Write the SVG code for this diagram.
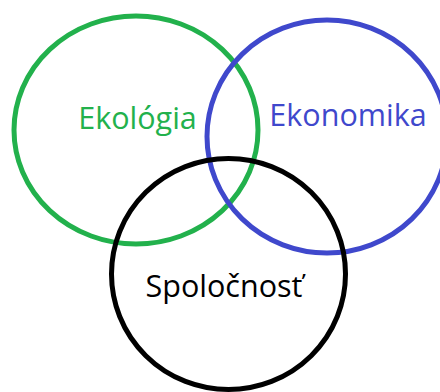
<svg xmlns="http://www.w3.org/2000/svg" width="440" height="392" viewBox="0 0 440 392">
<style>
.c{fill:none;stroke-width:5}
.t{font-family:"Open Sans","Noto Sans",sans-serif;font-size:30.5px;text-anchor:middle}
</style>
<rect width="440" height="392" fill="#fff"/>
<g id="ekologia">
<ellipse class="c" cx="136" cy="130" rx="122" ry="114" stroke="#22b14c"/>
<text class="t" x="137.5" y="129" fill="#22b14c">Ekológia</text>
</g>
<g id="ekonomika">
<ellipse class="c" cx="327" cy="136.5" rx="120" ry="116.5" stroke="#3f48cc"/>
<text class="t" x="348" y="126" fill="#3f48cc">Ekonomika</text>
</g>
<g id="spolocnost">
<ellipse class="c" cx="228.5" cy="274" rx="117" ry="115.5" stroke="#000"/>
<text class="t" x="224" y="297" fill="#000">Spoločnosť</text>
</g>
<g id="connectors"></g>
</svg>
